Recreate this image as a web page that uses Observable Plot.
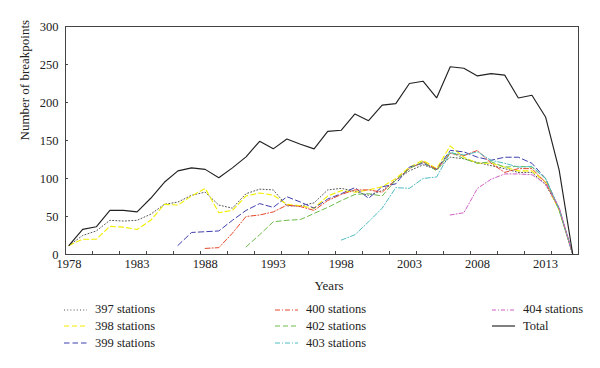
<!DOCTYPE html>
<html>
<head>
<meta charset="utf-8">
<script src="https://cdn.jsdelivr.net/npm/d3@7"></script>
<script src="https://cdn.jsdelivr.net/npm/@observablehq/plot@0.6"></script>
<style>
  html, body { margin: 0; padding: 0; background: #fff; }
  #wrap { position: relative; width: 600px; height: 368px; font-family: "Liberation Serif", "DejaVu Serif", serif; color: #222; }
  #wrap svg text { font-family: "Liberation Serif", "DejaVu Serif", serif; }
  .leg { position: absolute; height: 16px; display: flex; align-items: center; font-size: 12.5px; white-space: nowrap; }
  .leg svg { margin-right: 8px; }
</style>
</head>
<body>
<div id="wrap"></div>
<script>
// ---- data ----
const years = [1978,1979,1980,1981,1982,1983,1984,1985,1986,1987,1988,1989,1990,1991,1992,1993,1994,1995,1996,1997,1998,1999,2000,2001,2002,2003,2004,2005,2006,2007,2008,2009,2010,2011,2012,2013,2014,2015];
const s397 = [12,25,31,45,44,45,53,66,69,78,82,65,61,80,86,85,64,64,68,85,87,83,78,84,98,110,118,112,128,126,121,117,113,108,108,92,60,0];
const s398 = [12,20,20,37,36,33,45,66,65,77,87,55,58,77,81,78,66,64,61,77,84,82,85,89,100,115,124,113,143,128,120,120,115,110,110,95,58,0];
const s399 = [null,null,null,null,null,null,null,null,12,29,30,31,45,58,67,62,76,69,61,73,80,88,74,89,93,115,120,112,137,135,128,124,128,128,120,100,60,0];
const s400 = [null,null,null,null,null,null,null,null,null,null,8,9,28,50,52,56,65,63,58,71,79,85,85,82,98,113,122,112,133,130,137,120,108,113,113,95,60,0];
const s402 = [null,null,null,null,null,null,null,null,null,null,null,null,null,10,26,43,45,46,54,62,71,79,80,77,98,113,122,110,135,126,120,122,115,116,115,100,58,0];
const s403 = [null,null,null,null,null,null,null,null,null,null,null,null,null,null,null,null,null,null,null,null,19,26,43,61,88,87,100,102,134,131,135,124,120,115,116,100,60,0];
const s404 = [null,null,null,null,null,null,null,null,null,null,null,null,null,null,null,null,null,null,null,null,null,null,null,null,null,null,null,null,52,55,87,99,106,106,105,93,62,0];
const total = [12,33,36.5,58,58,56,74,95,110,114,112,101,114,128.5,149,139,152,145,139,162,163.5,185,176,196.5,198.5,225,228,206,247,245,235,238,236,206,209.5,181,111,0];
const seriesNames = ["397 stations","398 stations","399 stations","400 stations","402 stations","403 stations","404 stations","Total"];
const seriesValues = [s397,s398,s399,s400,s402,s403,s404,total];
const xTickLabels = [1978,1983,1988,1993,1998,2003,2008,2013];
const yTickLabels = [0,50,100,150,200,250,300];

// ---- styles ----
const styles = {
  "397 stations": {stroke: "#555555", dash: "1,2.2", width: 1},
  "398 stations": {stroke: "#f2ee00", dash: "5,3", width: 1.1},
  "399 stations": {stroke: "#3f3fae", dash: "5.5,3", width: 1},
  "400 stations": {stroke: "#e5482c", dash: "5,2,1,2", width: 1},
  "402 stations": {stroke: "#6cbb4c", dash: "5,3", width: 1},
  "403 stations": {stroke: "#4fbcc0", dash: "5,2,1,2", width: 1},
  "404 stations": {stroke: "#cf5fc4", dash: "4,2,1,2", width: 1},
  "Total": {stroke: "#222222", dash: null, width: 1.15}
};

const rows = [];
seriesNames.forEach((name, i) => {
  seriesValues[i].forEach((v, j) => {
    if (v !== null) rows.push({series: name, year: years[j], value: v});
  });
});

const W = 600, H = 300;
const mL = 65, mR = 22, mT = 26, mB = 46;
const xDomain = [1977.74, 2015.42];
const minorTicks = d3.range(1, 19).map(k => xDomain[0] + k * (xDomain[1] - xDomain[0]) / 19);
const plotW = W - mL - mR, plotH = H - mT - mB;
const serif = '"Liberation Serif", "DejaVu Serif", serif';

const lineMarks = seriesNames.map(name => Plot.line(rows.filter(r => r.series === name), {
  x: "year", y: "value",
  stroke: styles[name].stroke,
  strokeWidth: styles[name].width,
  strokeDasharray: styles[name].dash,
  strokeLinejoin: "miter"
}));

const chart = Plot.plot({
  width: W, height: H,
  marginLeft: mL, marginRight: mR, marginTop: mT, marginBottom: mB,
  style: {fontFamily: serif, fontSize: "12.5px", color: "#222", background: "#fff"},
  x: {domain: xDomain},
  y: {domain: [0, 300]},
  marks: [
    ...lineMarks,
    Plot.frame({stroke: "#444"}),
    Plot.tickX(minorTicks, {x: d => d, insetTop: plotH - 3, stroke: "#444"}),
    Plot.tickY(yTickLabels, {y: d => d, insetRight: plotW - 3, stroke: "#444"}),
    Plot.axisX(xTickLabels, {tickSize: 0, tickPadding: 5, tickFormat: d => String(d), label: null, fontSize: 12.5}),
    Plot.axisY(yTickLabels, {tickSize: 0, tickPadding: 7, label: null, fontSize: 12.5}),
    Plot.text(["Number of breakpoints"], {frameAnchor: "left", dx: -41, rotate: -90, fontSize: 13, fill: "#222"}),
    Plot.text(["Years"], {frameAnchor: "bottom", dx: 7, dy: 35, fontSize: 13, fill: "#222"})
  ]
});

const wrap = document.getElementById("wrap");
wrap.appendChild(chart);

// ---- legend ----
const legendCols = [[0,1,2],[3,4,5],[6,7]];
const colX = [64, 275, 492];
const rowY = [309.5, 326.2, 343];
legendCols.forEach((col, ci) => {
  col.forEach((si, ri) => {
    const name = seriesNames[si];
    const st = styles[name];
    const div = document.createElement("div");
    div.className = "leg";
    div.style.left = colX[ci] + "px";
    div.style.top = (rowY[ri] - 8) + "px";
    const ns = "http://www.w3.org/2000/svg";
    const svg = document.createElementNS(ns, "svg");
    svg.setAttribute("width", 23); svg.setAttribute("height", 16);
    const ln = document.createElementNS(ns, "line");
    ln.setAttribute("x1", 0); ln.setAttribute("x2", 23);
    ln.setAttribute("y1", 8); ln.setAttribute("y2", 8);
    ln.setAttribute("stroke", st.stroke);
    ln.setAttribute("stroke-width", st.width);
    if (st.dash) ln.setAttribute("stroke-dasharray", st.dash);
    svg.appendChild(ln);
    div.appendChild(svg);
    const span = document.createElement("span");
    span.textContent = name;
    div.appendChild(span);
    wrap.appendChild(div);
  });
});
</script>
</body>
</html>
